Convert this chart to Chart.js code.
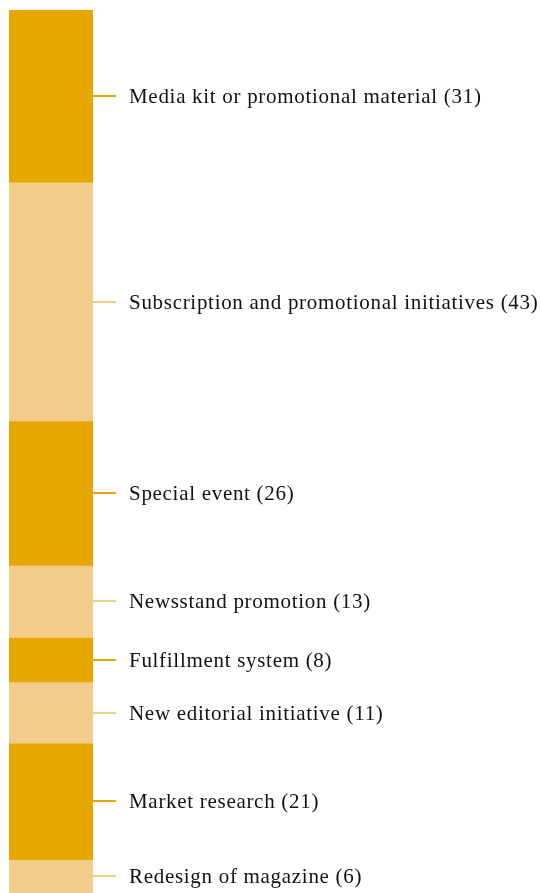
<!DOCTYPE html>
<html>
<head>
<meta charset="utf-8">
<script src="https://cdn.jsdelivr.net/npm/chart.js@4/dist/chart.umd.min.js"></script>
<style>
  html, body { margin: 0; padding: 0; background: #fff; }
  canvas { display: block; }
</style>
</head>
<body>
<canvas id="stackChart" width="540" height="893"></canvas>
<script>
// Categories and counts, top to bottom
const categories = [
    'Media kit or promotional material',
    'Subscription and promotional initiatives',
    'Special event',
    'Newsstand promotion',
    'Fulfillment system',
    'New editorial initiative',
    'Market research',
    'Redesign of magazine'
];
const counts = [31, 43, 26, 13, 8, 11, 21, 6];
const palette = ['#E6A800', '#F2CC8A'];

const total = counts.reduce((s, v) => s + v, 0);

// Leader lines + labels next to each segment
const leaderLabels = {
    id: 'leaderLabels',
    afterDatasetsDraw(chart) {
        const ctx = chart.ctx;
        ctx.save();
        chart.data.datasets.forEach((ds, i) => {
            const el = chart.getDatasetMeta(i).data[0];
            if (!el) return;
            const yMid = Math.round((el.y + el.base) / 2);
            const xRight = el.x + el.width / 2;
            ctx.strokeStyle = ds.backgroundColor;
            ctx.lineWidth = 2;
            ctx.beginPath();
            ctx.moveTo(xRight, yMid);
            ctx.lineTo(xRight + 23, yMid);
            ctx.stroke();
            ctx.fillStyle = '#111';
            ctx.font = '21px "Liberation Serif", serif';
            ctx.letterSpacing = '0.7px';
            ctx.textBaseline = 'middle';
            ctx.textAlign = 'left';
            ctx.fillText(`${ds.label} (${counts[i]})`, xRight + 36, yMid + 1);
        });
        ctx.restore();
    }
};

new Chart(document.getElementById('stackChart'), {
    type: 'bar',
    data: {
        labels: [''],
        datasets: categories.map((c, i) => ({
            label: c,
            data: [counts[i]],
            backgroundColor: palette[i % 2],
            borderWidth: 0,
            barPercentage: 1,
            categoryPercentage: 1
        }))
    },
    options: {
        responsive: false,
        animation: false,
        layout: { padding: { left: 9, right: 447, top: 10, bottom: 0 } },
        plugins: {
            legend: { display: false },
            tooltip: { enabled: false }
        },
        scales: {
            x: { stacked: true, display: false },
            y: { stacked: true, display: false, reverse: true, min: 0, max: total }
        }
    },
    plugins: [leaderLabels]
});
</script>
</body>
</html>
